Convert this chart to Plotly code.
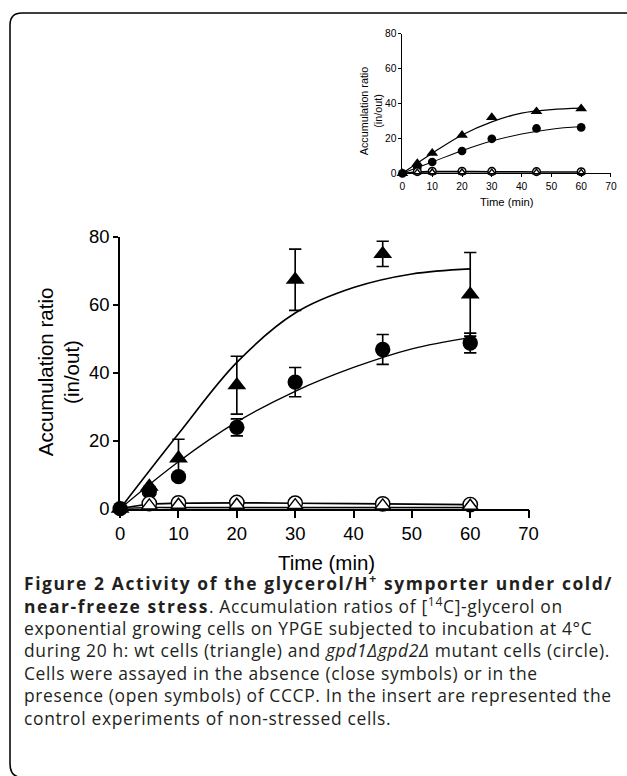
import plotly.graph_objects as go

W, H = 627, 776
# the photographed page comes out slightly reduced and shifted; place items so that
# they land at the reference positions (target picture px -> page px)
S = 0.975
OX, OY = 4.0, 10.0

# ---------------- data (main panel: cold-stressed cells) ----------------
time_pts = [0, 5, 10, 20, 30, 45, 60]
wt_closed = [0, 6.5, 14.8, 36.3, 67.3, 74.9, 63.0]
wt_closed_err = [0, 0, 5.6, 8.5, 9.0, 3.7, 12.3]
mut_closed = [0, 5.0, 9.4, 23.9, 37.2, 46.8, 48.7]
mut_closed_err = [0, 0, 0, 2.5, 4.3, 4.4, 2.9]
wt_open = [0, 0.9, 1.1, 1.1, 1.0, 0.9, 0.8]
mut_open = [0, 1.5, 1.7, 1.8, 1.6, 1.4, 1.2]

fit_time = [0, 10, 20, 30, 40, 50, 60]
wt_fit = [0, 22.0, 43.0, 57.5, 65.0, 69.0, 70.5]
mut_fit = [0, 13.8, 25.5, 34.5, 41.5, 47.0, 50.3]
open_fit_time = [0, 5, 10, 20, 30, 45, 60]
open_fit_hi = [0, 1.3, 1.6, 1.7, 1.6, 1.4, 1.2]
open_fit_lo = [0, 0.3, 0.3, 0.3, 0.3, 0.3, 0.3]

# ---------------- data (inset: non-stressed controls) ----------------
ins_wt_closed = [0, 5.7, 11.6, 21.9, 32.0, 35.4, 37.0]
ins_mut_closed = [0, 3.4, 6.5, 12.8, 19.8, 25.7, 26.3]
ins_wt_open = [0, 0.5, 0.6, 0.6, 0.5, 0.5, 0.4]
ins_mut_open = [0, 1.0, 1.2, 1.2, 1.1, 1.0, 0.9]
ins_wt_fit = [0, 11.5, 22.0, 29.5, 34.5, 36.5, 37.3]
ins_mut_fit = [0, 6.5, 13.0, 18.5, 22.5, 25.3, 26.8]
ins_open_fit_hi = [0, 0.9, 1.1, 1.1, 1.0, 0.9, 0.8]
ins_open_fit_lo = [0, 0.2, 0.2, 0.2, 0.2, 0.2, 0.2]

x_ticks = [0, 10, 20, 30, 40, 50, 60, 70]
y_ticks = [0, 20, 40, 60, 80]

BS = '<span style="letter-spacing:1.6px">'
RS = '<span style="letter-spacing:0.65px">'
caption_lines = [
    BS + "<b>Figure 2 Activity of the glycerol/H<sup>+</sup> symporter under cold/</b></span>",
    BS + "<b>near-freeze stress</b></span>" + RS + ". Accumulation ratios of [<sup>14</sup>C]-glycerol on</span>",
    RS + "exponential growing cells on YPGE subjected to incubation at 4°C</span>",
    RS + "during 20 h: wt cells (triangle) and <i>gpd1Δgpd2Δ</i> mutant cells (circle).</span>",
    RS + "Cells were assayed in the absence (close symbols) or in the</span>",
    RS + "presence (open symbols) of CCCP. In the insert are represented the</span>",
    RS + "control experiments of non-stressed cells.</span>",
]

FONT = "Liberation Sans, Arial, sans-serif"
CAP_FONT = "Open Sans, Noto Sans, sans-serif"


def px(x):
    return ((x - OX) / S) / W


def py(y):
    return 1 - ((y - OY) / S) / H


def sz(v):
    return v / S


fig = go.Figure()


def add_line(x, y, xa, ya, width):
    fig.add_trace(go.Scatter(x=x, y=y, mode="lines", xaxis=xa, yaxis=ya,
                             line=dict(color="black", width=sz(width), shape="spline", smoothing=1.0),
                             hoverinfo="skip", showlegend=False, cliponaxis=False))


def add_markers(x, y, xa, ya, symbol, size, filled, err=None):
    kw = {}
    if err is not None:
        kw["error_y"] = dict(type="data", array=err, visible=True, color="black",
                             thickness=sz(1.6), width=sz(6))
    fig.add_trace(go.Scatter(
        x=x, y=y, mode="markers", xaxis=xa, yaxis=ya,
        marker=dict(symbol=symbol, size=sz(size),
                    color="black" if filled else "white",
                    line=dict(color="black", width=0 if filled else sz(1.4))),
        showlegend=False, cliponaxis=False, **kw))


# main panel
add_line(open_fit_time, open_fit_lo, "x", "y", 1.6)
add_line(open_fit_time, open_fit_hi, "x", "y", 1.6)
add_line(fit_time, wt_fit, "x", "y", 1.6)
add_line(fit_time, mut_fit, "x", "y", 1.3)
add_markers(time_pts, wt_closed, "x", "y", "triangle-up", 16, True, wt_closed_err)
add_markers(time_pts, mut_closed, "x", "y", "circle", 15, True, mut_closed_err)
add_markers(time_pts[1:], mut_open[1:], "x", "y", "circle", 14, False)
add_markers(time_pts[1:], wt_open[1:], "x", "y", "triangle-up", 13, False)

# inset
add_line(open_fit_time, ins_open_fit_lo, "x2", "y2", 1.2)
add_line(open_fit_time, ins_open_fit_hi, "x2", "y2", 1.2)
add_line(fit_time, ins_wt_fit, "x2", "y2", 1.2)
add_line(fit_time, ins_mut_fit, "x2", "y2", 1.0)
add_markers(time_pts, ins_wt_closed, "x2", "y2", "triangle-up", 10, True)
add_markers(time_pts, ins_mut_closed, "x2", "y2", "circle", 8.5, True)
add_markers(time_pts[1:], ins_mut_open[1:], "x2", "y2", "circle", 7.5, False)
add_markers(time_pts[1:], ins_wt_open[1:], "x2", "y2", "triangle-up", 6.5, False)

axis_common = dict(showgrid=False, zeroline=False, showline=True, linecolor="black",
                   ticks="outside", tickcolor="black", fixedrange=True)

fig.update_layout(
    width=W, height=H,
    margin=dict(l=0, r=0, t=0, b=0),
    paper_bgcolor="white", plot_bgcolor="white",
    font=dict(family=FONT, color="black"),
    showlegend=False,
    xaxis=dict(domain=[px(119), px(527)], range=[0, 70], tickvals=x_ticks,
               ticktext=[str(v) for v in x_ticks], linewidth=sz(1.5), tickwidth=sz(1.5), ticklen=sz(7),
               tickfont=dict(size=sz(18), family=FONT), anchor="y", **axis_common),
    yaxis=dict(domain=[py(508.7), py(236)], range=[0, 80], tickvals=y_ticks,
               ticktext=[str(v) for v in y_ticks], linewidth=sz(1.5), tickwidth=sz(1.5), ticklen=sz(5),
               tickfont=dict(size=sz(18), family=FONT), anchor="x", **axis_common),
    xaxis2=dict(domain=[px(401), px(609.3)], range=[0, 70], tickvals=x_ticks,
                ticktext=[str(v) for v in x_ticks], linewidth=1, tickwidth=1, ticklen=3,
                tickfont=dict(size=sz(10), family=FONT), anchor="y2", **axis_common),
    yaxis2=dict(domain=[py(172.7), py(32.7)], range=[0, 80], tickvals=y_ticks,
                ticktext=[str(v) for v in y_ticks], linewidth=1, tickwidth=1, ticklen=3,
                tickfont=dict(size=sz(10), family=FONT), anchor="x2", **axis_common),
)

ann = []
# main axis titles
ann.append(dict(text="Accumulation ratio<br>(in/out)", x=px(58), y=py(372), xref="paper", yref="paper",
                textangle=-90, showarrow=False, font=dict(size=sz(20), family=FONT),
                xanchor="center", yanchor="middle"))
ann.append(dict(text="Time (min)", x=px(325), y=py(562.5), xref="paper", yref="paper",
                showarrow=False, font=dict(size=sz(20), family=FONT), xanchor="center", yanchor="middle"))
# inset axis titles
ann.append(dict(text="Accumulation ratio<br>(in/out)", x=px(369), y=py(110), xref="paper", yref="paper",
                textangle=-90, showarrow=False, font=dict(size=sz(10.5), family=FONT),
                xanchor="center", yanchor="middle"))
ann.append(dict(text="Time (min)", x=px(505), y=py(201), xref="paper", yref="paper",
                showarrow=False, font=dict(size=sz(11), family=FONT), xanchor="center", yanchor="middle"))
# caption
cap_y = [583, 605.5, 628, 650.5, 673, 695.5, 718]
for line, yy in zip(caption_lines, cap_y):
    ann.append(dict(text=line, x=px(21), y=py(yy), xref="paper", yref="paper", showarrow=False,
                    xanchor="left", yanchor="middle", align="left",
                    font=dict(size=sz(17), family=CAP_FONT, color="#231f20")))
fig.update_layout(annotations=ann)

# rounded frame (top and left sides, start of the bottom-left corner)
path = (f"M {px(21)},{py(778)} Q {px(9)},{py(778)} {px(9)},{py(764)} "
        f"L {px(9)},{py(24)} "
        f"Q {px(9)},{py(12)} {px(21)},{py(12)} L {px(660)},{py(12)}")
fig.add_shape(type="path", path=path, xref="paper", yref="paper",
              line=dict(color="black", width=sz(1.5)))

fig.write_html(
    "out.html",
    config={"displayModeBar": False},
    post_script=("document.documentElement.style.margin='0';"
                 "document.body.style.margin='0';"
                 "document.documentElement.style.overflow='hidden';"
                 "document.body.style.overflow='hidden';"),
)
